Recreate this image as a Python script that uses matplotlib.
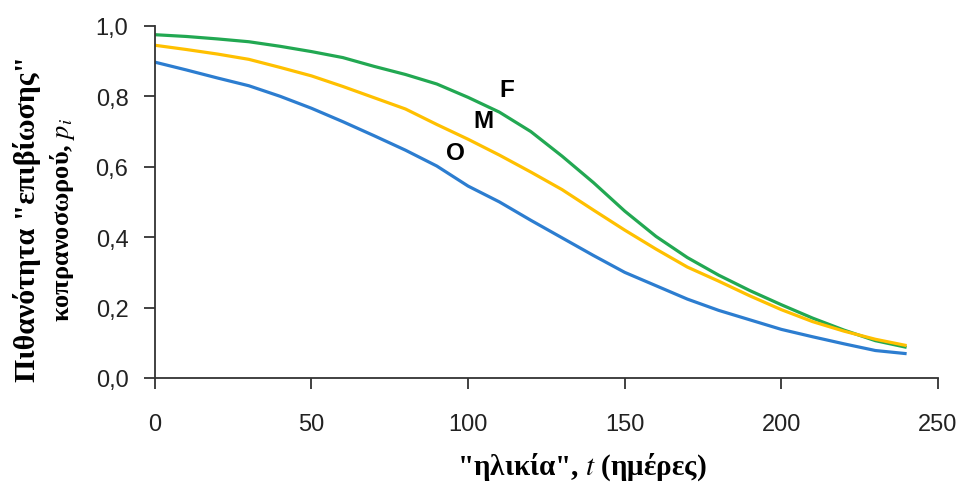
import matplotlib
matplotlib.use("Agg")
import matplotlib.pyplot as plt
from matplotlib.ticker import FuncFormatter

plt.rcParams['mathtext.fontset'] = 'stix'

# Age in days
age = [0, 10, 20, 30, 40, 50, 60, 70, 80, 90, 100, 110, 120,
       130, 140, 150, 160, 170, 180, 190, 200, 210, 220, 230, 240]

# Survival probability of the dung pat for each group
p_F = [0.975, 0.970, 0.963, 0.955, 0.942, 0.927, 0.910, 0.885, 0.862, 0.835,
       0.797, 0.755, 0.700, 0.630, 0.555, 0.474, 0.402, 0.342, 0.292, 0.248,
       0.208, 0.170, 0.136, 0.106, 0.087]
p_M = [0.945, 0.933, 0.920, 0.905, 0.882, 0.858, 0.828, 0.796, 0.764, 0.720,
       0.678, 0.633, 0.585, 0.535, 0.477, 0.420, 0.366, 0.315, 0.275, 0.233,
       0.194, 0.160, 0.133, 0.110, 0.092]
p_O = [0.897, 0.875, 0.852, 0.830, 0.800, 0.766, 0.728, 0.688, 0.647, 0.602,
       0.545, 0.500, 0.448, 0.398, 0.348, 0.300, 0.262, 0.224, 0.192, 0.165,
       0.138, 0.117, 0.097, 0.078, 0.069]

series_labels = ["F", "M", "O"]
label_pos = [(112.4, 0.82), (105.0, 0.73), (96.1, 0.641)]

x_ticks = [0, 50, 100, 150, 200, 250]
y_ticks = [0.0, 0.2, 0.4, 0.6, 0.8, 1.0]

fig = plt.figure(figsize=(9.62, 4.89), dpi=100)
ax = fig.add_axes([0.161, 0.225, 0.814, 0.72])

colors = {"F": "#22A852", "M": "#FFC000", "O": "#2C7DD0"}
for name, vals in zip(series_labels, [p_F, p_M, p_O]):
    ax.plot(age, vals, color=colors[name], lw=2.3, solid_capstyle='butt')

for name, (lx, ly) in zip(series_labels, label_pos):
    ax.text(lx, ly, name, ha='center', va='center', fontsize=17.5,
            fontweight='bold', family='Liberation Sans', color='black')

ax.set_xlim(0, 250)
ax.set_ylim(0, 1.0)
ax.set_xticks(x_ticks)
ax.set_yticks(y_ticks)
ax.yaxis.set_major_formatter(FuncFormatter(lambda v, p: f"{v:.1f}".replace(".", ",")))

for s in ["top", "right"]:
    ax.spines[s].set_visible(False)
for s in ["left", "bottom"]:
    ax.spines[s].set_color("#333333")
    ax.spines[s].set_linewidth(1.3)

ax.tick_params(axis='both', direction='out', length=8, width=1.3, color="#333333",
               labelsize=17, labelcolor="#222222")
ax.tick_params(axis='y', pad=11)
ax.tick_params(axis='x', pad=17)
for lab in ax.get_xticklabels() + ax.get_yticklabels():
    lab.set_family('Liberation Sans')

fig.text(0.605, 0.045, '"ηλικία", $t$ (ημέρες)', ha='center', va='center',
         fontsize=21, fontweight='bold', family='Liberation Serif')
fig.text(0.028, 0.552, 'Πιθανότητα "επιβίωσης"', ha='center', va='center',
         rotation=90, fontsize=21.5, fontweight='bold', family='Liberation Serif')
fig.text(0.0645, 0.55, 'κοπρανοσωρού, $p_i$', ha='center', va='center',
         rotation=90, fontsize=19, fontweight='bold', family='Liberation Serif')

fig.savefig("out.png", dpi=100)
